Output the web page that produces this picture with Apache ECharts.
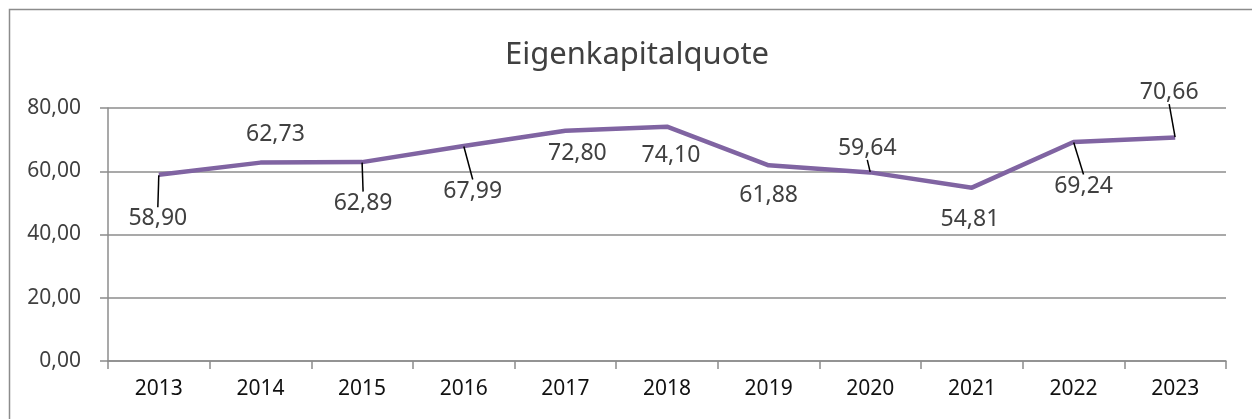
<!DOCTYPE html>
<html>
<head>
<meta charset="utf-8">
<script src="https://cdn.jsdelivr.net/npm/echarts@6/dist/echarts.min.js"></script>
<style>
  html, body { margin: 0; padding: 0; background: #fff; }
  #chart { width: 1252px; height: 419px; }
</style>
</head>
<body>
<div id="chart"></div>
<script>
const years = ['2013', '2014', '2015', '2016', '2017', '2018', '2019', '2020', '2021', '2022', '2023'];
const quote = [58.90, 62.73, 62.89, 67.99, 72.80, 74.10, 61.88, 59.64, 54.81, 69.24, 70.66];
const yTicks = [0, 20, 40, 60, 80];

// label offsets (px) and whether Excel drew a leader line
const labelDx = [-1, 15, 1, 9, 12, 4, 0, -3, -2, 10, -6];
const labelDy = [44, -28, 41, 45, 23, 29, 30, -24, 32, 44, -45];
const leader = [true, false, true, true, false, false, false, true, false, true, true];

const fmt = (v) => v.toFixed(2).replace('.', ',');

const chart = echarts.init(document.getElementById('chart'));

chart.setOption({
  animation: false,
  title: {
    text: 'Eigenkapitalquote',
    left: 632,
    top: 35,
    textAlign: 'center',
    textStyle: {
      fontFamily: 'Noto Sans',
      fontSize: 31,
      fontWeight: 'normal',
      color: '#404040',
    },
  },
  graphic: [
    {
      type: 'rect',
      shape: { x: 9.5, y: 9.5, width: 1260, height: 430 },
      style: { fill: 'none', stroke: '#8c8c8c', lineWidth: 1.5 },
      silent: true,
    },
  ],
  grid: {
    left: 108,
    right: 26,
    top: 108,
    bottom: 58,
  },
  xAxis: {
    type: 'category',
    data: years,
    boundaryGap: true,
    axisLine: { lineStyle: { color: '#8c8c8c', width: 1.5 } },
    axisTick: { show: true, length: 8, lineStyle: { color: '#8c8c8c', width: 1.5 } },
    axisLabel: {
      margin: 18,
      fontFamily: 'Noto Sans',
      fontSize: 21,
      color: '#111',
    },
  },
  yAxis: {
    type: 'value',
    min: yTicks[0],
    max: yTicks[yTicks.length - 1],
    interval: yTicks[1] - yTicks[0],
    axisLine: { show: true, lineStyle: { color: '#8c8c8c', width: 1.5 } },
    axisTick: { show: true, length: 8, lineStyle: { color: '#8c8c8c', width: 1.5 } },
    splitLine: { lineStyle: { color: '#8c8c8c', width: 1.5 } },
    axisLabel: {
      margin: 27,
      fontFamily: 'Noto Sans',
      fontSize: 21,
      color: '#404040',
      formatter: (v) => fmt(v),
    },
  },
  series: [
    {
      type: 'line',
      data: quote.map((v, i) => ({
        value: v,
        labelLine: { show: leader[i] },
      })),
      symbol: 'circle',
      symbolSize: 1,
      showSymbol: true,
      itemStyle: { color: 'rgba(0,0,0,0)' },
      lineStyle: { color: '#8064a2', width: 4.5 },
      label: {
        show: true,
        position: 'inside',
        fontFamily: 'Noto Sans',
        fontSize: 23,
        color: '#404040',
        formatter: (p) => fmt(p.value),
      },
      labelLine: {
        show: true,
        lineStyle: { color: '#000', width: 1.5 },
      },
      labelLayout: (p) => ({
        dx: labelDx[p.dataIndex],
        dy: labelDy[p.dataIndex],
      }),
    },
  ],
});
</script>
</body>
</html>
